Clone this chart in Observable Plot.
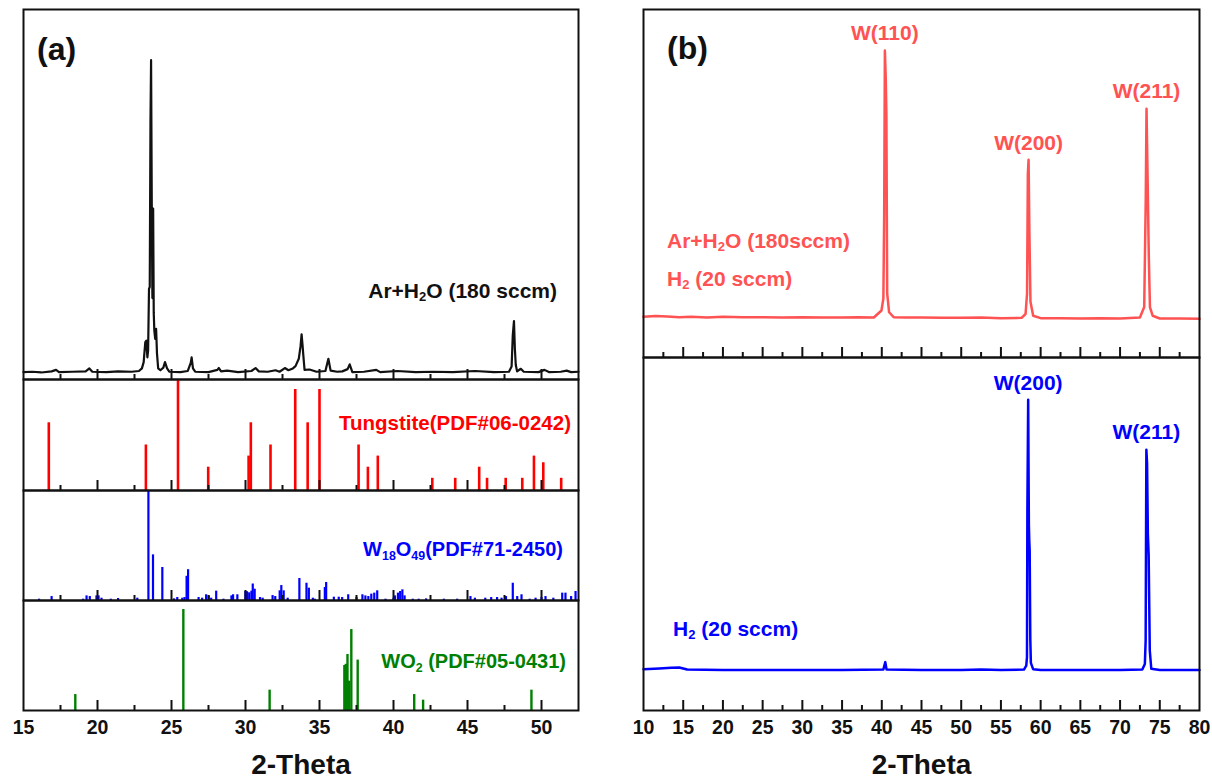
<!DOCTYPE html>
<html><head><meta charset="utf-8">
<script src="https://cdn.jsdelivr.net/npm/d3@7"></script>
<script src="https://cdn.jsdelivr.net/npm/@observablehq/plot@0.6"></script>
<style>
body{margin:0;background:#fff;}
#fig{position:relative;width:1212px;height:783px;overflow:hidden;background:#fff;font-family:"Liberation Sans",Arial,Helvetica,sans-serif;}
.p{position:absolute;}
.lbl{position:absolute;font-weight:bold;white-space:nowrap;line-height:1;transform:translateY(-50%);}
.lbl sub{font-size:0.62em;vertical-align:-0.3em;line-height:0;}
</style></head><body><div id="fig"></div>
<script>
// ---------------- DATA ----------------
// Panel (a): measured pattern Ar+H2O (180 sccm): [2-theta, intensity %]
const patternA = [
[15.0,2.0],[15.6,2.1],[16.2,1.9],[16.9,2.2],[17.2,2.6],[17.4,2.0],[18.3,2.1],[19.2,2.2],[19.45,3.0],[19.65,2.1],
[20.6,2.0],[21.4,2.2],[22.3,2.1],[22.8,2.3],[23.0,3.0],[23.12,4.7],[23.23,10.1],[23.30,10.5],[23.37,6.0],[23.42,7.8],
[23.48,24.5],[23.53,25],[23.58,70],[23.62,86.3],[23.67,45],[23.71,22],[23.76,46.2],[23.8,18],[23.84,13.2],[23.9,11],
[23.96,13.7],[24.02,7],[24.1,3],[24.25,2.5],[24.45,3.2],[24.56,4.7],[24.7,3.0],[24.85,2.1],[25.6,2.0],[26.1,2.3],
[26.3,4.5],[26.36,6.0],[26.45,3.0],[26.6,2.1],[27.5,2.0],[28.1,2.6],[28.2,3.1],[28.35,2.2],[28.76,2.4],[29.5,2.0],
[30.4,2.3],[30.68,3.1],[30.9,2.2],[31.5,2.1],[32.03,2.5],[32.3,2.1],[32.66,3.1],[32.9,2.5],[33.2,3.0],[33.38,3.6],
[33.6,5.6],[33.72,9],[33.79,12.2],[33.86,9],[33.9,6.9],[33.99,2.6],[34.33,2.7],[34.8,2.1],[35.4,2.3],[35.6,5.6],
[35.75,2.4],[36.2,2.1],[36.54,2.2],[36.9,2.8],[37.04,4.1],[37.22,2.0],[38.0,2.1],[38.84,2.6],[39.1,2.0],[40.26,2.3],
[41.5,2.0],[42.7,2.1],[44.0,2.0],[45.5,2.3],[46.8,2.0],[47.8,2.1],[47.98,3.5],[48.06,12],[48.14,15.8],[48.2,8.4],
[48.26,4],[48.35,2.2],[48.6,2.9],[48.8,2.1],[49.8,2.0],[50.2,2.6],[50.5,2.0],[51.3,2.1],[51.7,2.4],[52.0,2.0],[52.5,2.1]
];
// Reference sticks: [2-theta, relative intensity %]
const tungstite = [
[16.71,61],[23.27,41],[25.44,100],[27.48,21],[30.21,31],[30.36,61],[31.69,41],[33.36,91],[34.20,61],[35.00,91],
[37.64,41],[38.27,21],[38.94,31],[42.62,11],[44.17,11],[45.79,21],[46.32,11],[47.58,11],[48.70,11],[49.49,31],
[50.12,25],[51.33,11]
];
const w18o49 = [
[16.05,1.2],[16.9,3.6],[19.03,1.2],[19.26,4.2],[19.48,3.6],[19.93,4.2],[20.07,4.2],[20.27,2.1],[20.9,1.2],[21.39,1.8],
[22.69,2.1],[23.44,100],[23.75,41.5],[24.38,30],[25.17,1.5],[25.39,2.7],[25.73,2.1],[25.88,2.7],[26.02,22],[26.12,28],
[26.83,2.7],[27.07,2.1],[27.34,5.2],[27.52,4.2],[27.68,2.1],[28.02,8.5],[28.51,1.2],[29.05,4.2],[29.16,5.2],[29.45,5.2],
[29.99,8.2],[30.1,8],[30.25,7],[30.4,8.5],[30.49,15],[30.62,10.3],[30.98,2.7],[31.16,2.1],[31.83,4.5],[32.01,3.6],
[32.31,8.8],[32.42,13.6],[32.58,8.8],[32.85,2.1],[33.64,20],[34.12,15.7],[34.28,11.2],[34.55,2.1],[34.68,1.2],[35.36,11.8],
[35.45,16.4],[35.97,3],[36.3,3],[36.53,2.7],[36.94,5.2],[37.5,2.7],[37.9,5.2],[38.1,4.2],[38.3,3.6],[38.5,5.8],
[38.7,6.7],[38.9,8.8],[39.46,1.2],[40.0,2.1],[40.1,4.2],[40.3,6.7],[40.45,8.2],[40.6,9.7],[40.75,4.2],[41.3,1.2],
[41.7,1.2],[42.2,1.5],[43.4,1.2],[44.3,1.2],[45.2,3.6],[45.5,2.1],[46.2,2.1],[46.6,2.7],[47.0,2.7],[47.3,2.1],
[47.6,3.6],[48.06,15.7],[48.36,3.6],[48.65,5.2],[49.2,1.2],[49.6,2.1],[50.0,2.7],[50.27,3.6],[50.8,2.1],[51.4,6.7],
[51.62,6.7],[52.0,3.6],[52.3,8.2]
];
const wo2 = [
[18.5,14.5],[25.8,91.8],[31.63,18.5],[36.68,40.9],[36.78,42],[36.89,50.9],[37.0,26.7],[37.15,73.6],[37.58,45.8],
[41.4,14.5],[42.0,9.4],[49.32,18.5]
];
// Panel (b): measured patterns [2-theta, intensity %]
const patternRed = [
[10,11.7],[11.5,11.9],[13,11.8],[14.5,11.6],[16,11.7],[18,11.5],[20,11.7],[22.5,11.6],[25,11.6],[27.5,11.5],[30,11.6],
[32.5,11.5],[35,11.5],[37,11.6],[39,11.5],[39.96,13.5],[40.2,17],[40.3,41],[40.39,88.2],[40.5,80],[40.58,70],
[40.68,18.4],[40.92,13],[41.5,11.6],[43,11.5],[45,11.5],[47.5,11.4],[50,11.4],[52.5,11.5],[55,11.3],[57.6,11.4],
[58.1,12.5],[58.29,18.4],[58.39,52.8],[58.48,56.8],[58.58,36.5],[58.72,16],[59.06,12],[60,11.3],[62.5,11.3],[65,11.2],
[67.5,11.3],[70,11.2],[72.5,11.5],[73.04,14.5],[73.23,45],[73.33,71.5],[73.43,57],[73.62,28.8],[73.76,14.5],[74.1,12],
[75,11.2],[77.5,11.2],[80,11.1]
];
const patternBlue = [
[10,11.7],[12,11.9],[13.5,12.1],[14.5,12.2],[15.5,11.6],[20,11.5],[25,11.5],[30,11.5],[35,11.5],[40.2,11.6],
[40.44,13.7],[40.6,11.6],[45,11.5],[50,11.5],[52.5,11.6],[55,11.5],[57.9,11.6],[58.19,12.7],[58.28,15.1],[58.33,57.2],
[58.43,88.0],[58.5,60],[58.52,52.4],[58.57,48],[58.62,45.3],[58.7,20],[58.77,13.5],[59.05,11.7],[60,11.5],[65,11.5],
[70,11.5],[72.8,11.6],[73.12,13.2],[73.22,19.8],[73.31,73.9],[73.4,70],[73.45,60],[73.5,50],[73.6,43.9],[73.74,17],
[73.93,11.8],[75,11.5],[80,11.5]
];
// Peak labels (2-theta positions)
const redPeakNames = ["W(110)","W(200)","W(211)"];
const redPeakPos = [40.4, 58.5, 73.3];
const bluePeakNames = ["W(200)","W(211)"];
const bluePeakPos = [58.4, 73.3];
// Axis ticks
const ticksA = [15,20,25,30,35,40,45,50];
const majorA = [20,25,30,35,40,45,50];
const minorA = [17.5,22.5,27.5,32.5,37.5,42.5,47.5];
const ticksB = [10,15,20,25,30,35,40,45,50,55,60,65,70,75,80];
const majorB = [15,20,25,30,35,40,45,50,55,60,65,70,75];
const minorB = [12.5,17.5,22.5,27.5,32.5,37.5,42.5,47.5,52.5,57.5,62.5,67.5,72.5,77.5];

// ---------------- DRAWING ----------------
const FONT = '"Liberation Sans", Arial, Helvetica, sans-serif';
const INK = "#111";
const RED_B = "#ff5252";
const fig = document.getElementById("fig");
const toObj = arr => arr.map(([t, i]) => ({t, i}));

function peakTable(names, pos, pattern) {
  return names.map((label, k) => {
    const near = pattern.filter(([t]) => Math.abs(t - pos[k]) < 0.6);
    const best = near.reduce((a, b) => (b[1] > a[1] ? b : a));
    return {label, t: best[0], i: best[1]};
  });
}

function panel({left, top, width, height, domain, majors, minors, marks, axisTicks}) {
  const mb = axisTicks ? 73 : 0;
  const extra = axisTicks ? [
    Plot.axisX(axisTicks, {anchor: "bottom", tickSize: 0, tickPadding: 10, fontSize: 19.5, fontWeight: "bold", fill: INK, label: null}),
    Plot.text(["2-Theta"], {text: d => d, frameAnchor: "bottom", dy: 55, fontSize: 28, fontWeight: "bold", fill: INK, lineAnchor: "middle"})
  ] : [];
  const svg = Plot.plot({
    width, height: height + mb,
    marginTop: 0, marginLeft: 0, marginRight: 0, marginBottom: mb,
    x: {domain, axis: null},
    y: {domain: [0, 100], axis: null},
    style: {overflow: "visible", background: "transparent", fontFamily: FONT},
    marks: [
      ...marks,
      Plot.tickX(majors, {x: d => d, insetTop: height - 10, stroke: INK, strokeWidth: 2}),
      Plot.tickX(minors, {x: d => d, insetTop: height - 5, stroke: INK, strokeWidth: 2}),
      Plot.frame({stroke: INK, strokeWidth: 2}),
      ...extra
    ]
  });
  const div = document.createElement("div");
  div.className = "p";
  div.style.left = left + "px";
  div.style.top = top + "px";
  div.appendChild(svg);
  fig.appendChild(div);
}

function label(html, {left, right, cy, size, color}) {
  const d = document.createElement("div");
  d.className = "lbl";
  d.innerHTML = html;
  if (left != null) d.style.left = left + "px";
  if (right != null) d.style.right = (1212 - right) + "px";
  d.style.top = cy + "px";
  d.style.fontSize = size + "px";
  d.style.color = color;
  fig.appendChild(d);
}

// Panel (a)
const AL = 23, AW = 555, AD = [15, 52.5];
panel({left: AL, top: 9, width: AW, height: 370, domain: AD, majors: majorA, minors: minorA,
  marks: [Plot.line(toObj(patternA), {x: "t", y: "i", stroke: INK, strokeWidth: 2.2})]});
panel({left: AL, top: 379, width: AW, height: 111, domain: AD, majors: majorA, minors: minorA,
  marks: [Plot.ruleX(toObj(tungstite), {x: "t", y1: 0, y2: "i", stroke: "#ff0000", strokeWidth: 2.6})]});
panel({left: AL, top: 490, width: AW, height: 110, domain: AD, majors: majorA, minors: minorA,
  marks: [Plot.ruleX(toObj(w18o49), {x: "t", y1: 0, y2: "i", stroke: "#0000ff", strokeWidth: 2.2})]});
panel({left: AL, top: 600, width: AW, height: 110, domain: AD, majors: majorA, minors: minorA, axisTicks: ticksA,
  marks: [Plot.ruleX(toObj(wo2), {x: "t", y1: 0, y2: "i", stroke: "#008000", strokeWidth: 2.4})]});

// Panel (b)
const BL = 643, BW = 556, BD = [10, 80];
panel({left: BL, top: 9, width: BW, height: 348, domain: BD, majors: majorB, minors: minorB,
  marks: [
    Plot.line(toObj(patternRed), {x: "t", y: "i", stroke: RED_B, strokeWidth: 2.5}),
    Plot.text(peakTable(redPeakNames, redPeakPos, patternRed), {x: "t", y: "i", text: "label", dy: -17, lineAnchor: "middle", fill: RED_B, fontSize: 21, fontWeight: "bold"})
  ]});
panel({left: BL, top: 357, width: BW, height: 353, domain: BD, majors: majorB, minors: minorB, axisTicks: ticksB,
  marks: [
    Plot.line(toObj(patternBlue), {x: "t", y: "i", stroke: "#0000ff", strokeWidth: 2.5}),
    Plot.text(peakTable(bluePeakNames, bluePeakPos, patternBlue), {x: "t", y: "i", text: "label", dy: -17, lineAnchor: "middle", fill: "#0000ff", fontSize: 21, fontWeight: "bold"})
  ]});

// Text labels
label("(a)", {left: 37, cy: 49, size: 32, color: INK});
label("Ar+H<sub>2</sub>O (180 sccm)", {right: 557, cy: 290, size: 21, color: INK});
label("Tungstite(PDF#06-0242)", {right: 571, cy: 423, size: 20.5, color: "#ff0000"});
label("W<sub>18</sub>O<sub>49</sub>(PDF#71-2450)", {right: 563, cy: 549, size: 20, color: "#0000ff"});
label("WO<sub>2</sub> (PDF#05-0431)", {right: 566, cy: 661, size: 20, color: "#008000"});
label("(b)", {left: 667, cy: 48, size: 32, color: INK});
label("Ar+H<sub>2</sub>O (180sccm)", {left: 667, cy: 240, size: 21, color: RED_B});
label("H<sub>2</sub> (20 sccm)", {left: 667, cy: 278, size: 21, color: RED_B});
label("H<sub>2</sub> (20 sccm)", {left: 673, cy: 628, size: 21, color: "#0000ff"});
</script></body></html>
